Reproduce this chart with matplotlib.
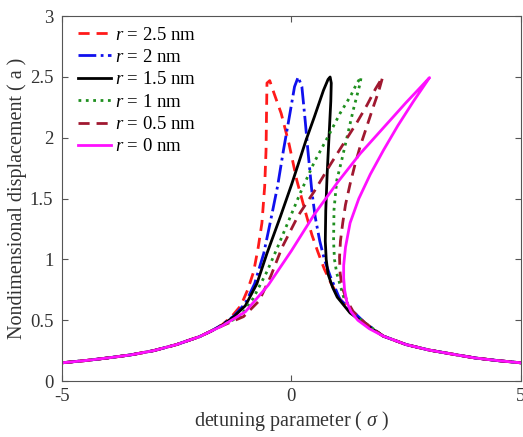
import numpy as np
import matplotlib.pyplot as plt

plt.rcParams['font.family'] = 'Liberation Serif'
plt.rcParams['mathtext.fontset'] = 'custom'
plt.rcParams['mathtext.rm'] = 'Liberation Serif'
plt.rcParams['mathtext.it'] = 'Liberation Serif:italic'
plt.rcParams['axes.unicode_minus'] = False

# shared low-amplitude tails
tail_l_s = [-5.0, -4.5, -4.0, -3.5, -3.0, -2.5, -2.0, -1.75]
tail_l_a = [0.15, 0.168, 0.19, 0.215, 0.25, 0.30, 0.365, 0.41]
tail_r_s = [2.0, 2.5, 3.0, 3.5, 4.0, 4.5, 5.0]
tail_r_a = [0.37, 0.30, 0.255, 0.222, 0.19, 0.168, 0.15]

# r = 2.5 nm
s_r25 = [-1.5, -1.3, -1.1, -0.95, -0.82, -0.72, -0.64, -0.58, -0.55, -0.54, -0.53, -0.47,
         -0.38, -0.22, -0.05, 0.12, 0.3, 0.45, 0.58, 0.72, 0.87, 1.05, 1.3, 1.6]
a_r25 = [0.465, 0.53, 0.62, 0.75, 0.9, 1.1, 1.3, 1.6, 1.9, 2.2, 2.45, 2.47,
         2.37, 2.2, 1.95, 1.65, 1.4, 1.2, 1.06, 0.92, 0.8, 0.68, 0.57, 0.47]
# r = 2 nm
s_r2 = [-1.5, -1.25, -1.0, -0.8, -0.6, -0.45, -0.3, -0.17, -0.03, 0.07, 0.15, 0.23,
        0.3, 0.36, 0.45, 0.52, 0.62, 0.72, 0.85, 1.06, 1.35, 1.6]
a_r2 = [0.465, 0.535, 0.64, 0.8, 1.05, 1.32, 1.6, 1.9, 2.2, 2.42, 2.5, 2.42,
        2.15, 1.9, 1.55, 1.35, 1.15, 1.0, 0.86, 0.67, 0.57, 0.48]
# r = 1.5 nm
s_r15 = [-1.5, -1.25, -1.0, -0.75, -0.53, -0.24, 0.01, 0.2, 0.32, 0.5, 0.7, 0.8, 0.845,
         0.87, 0.86, 0.82, 0.78, 0.75, 0.74, 0.76, 0.8, 0.9, 1.0, 1.28, 1.6]
a_r15 = [0.46, 0.53, 0.62, 0.8, 1.05, 1.35, 1.62, 1.84, 1.98, 2.17, 2.39, 2.48, 2.5,
         2.45, 2.3, 2.0, 1.7, 1.4, 1.15, 1.0, 0.88, 0.77, 0.69, 0.56, 0.47]
# r = 1 nm
s_r1 = [-1.5, -1.12, -0.83, -0.53, -0.3, -0.1, 0.2, 0.5, 0.8, 1.06, 1.3, 1.43, 1.52,
        1.5, 1.35, 1.21, 1.1, 0.99, 0.93, 0.92, 0.94, 0.99, 1.14, 1.39, 1.6]
a_r1 = [0.46, 0.53, 0.68, 0.9, 1.1, 1.28, 1.55, 1.8, 2.01, 2.2, 2.35, 2.45, 2.5,
        2.45, 2.23, 2.0, 1.82, 1.65, 1.41, 1.15, 1.0, 0.885, 0.69, 0.54, 0.48]
# r = 0.5 nm
s_r05 = [-1.5, -1.04, -0.7, -0.45, -0.2, 0.15, 0.5, 0.85, 1.15, 1.42, 1.65, 1.83, 1.99,
         1.9, 1.79, 1.65, 1.5, 1.38, 1.28, 1.18, 1.12, 1.07, 1.05, 1.06, 1.1, 1.2, 1.35, 1.6]
a_r05 = [0.455, 0.53, 0.66, 0.86, 1.1, 1.36, 1.56, 1.78, 1.96, 2.12, 2.27, 2.4, 2.5,
         2.38, 2.26, 2.1, 1.93, 1.77, 1.62, 1.45, 1.3, 1.15, 1.02, 0.9, 0.78, 0.67, 0.57, 0.48]
# r = 0 nm
s_r0 = [-1.5, -1.0, -0.5, 0.0, 0.5, 1.0, 1.5, 2.0, 2.5, 2.8, 3.01,
        2.66, 2.32, 2.01, 1.72, 1.47, 1.28, 1.18, 1.14, 1.14, 1.16, 1.21, 1.3, 1.45, 1.7]
a_r0 = [0.455, 0.57, 0.79, 1.07, 1.37, 1.63, 1.87, 2.08, 2.29, 2.41, 2.495,
        2.3, 2.1, 1.9, 1.7, 1.5, 1.3, 1.1, 0.95, 0.85, 0.75, 0.65, 0.57, 0.5, 0.43]

labels = ['2.5', '2', '1.5', '1', '0.5', '0']
curves = [(s_r25, a_r25), (s_r2, a_r2), (s_r15, a_r15), (s_r1, a_r1), (s_r05, a_r05), (s_r0, a_r0)]
colors = ['#ff1a1a', '#1010ee', 'black', '#1f8f1f', '#a01830', '#ff10ff']
styles = [(0, (4, 2.5)), '-.', '-', ':', (0, (4, 2.5)), '-']

fig = plt.figure(figsize=(5.23, 4.37), dpi=100)
ax = fig.add_axes([0.118, 0.128, 0.878, 0.835])

for (s, a), lab, c, ls in zip(curves, labels, colors, styles):
    x = tail_l_s + s + tail_r_s
    y = tail_l_a + a + tail_r_a
    ax.plot(x, y, color=c, linestyle=ls, linewidth=2, label='$r$ = ' + lab + ' nm')

ax.set_xlim(-5, 5)
ax.set_ylim(0, 3)
ax.set_xticks([-5, 0, 5])
ax.set_yticks([0, 0.5, 1, 1.5, 2, 2.5, 3])
ax.set_yticklabels(['0', '0.5', '1', '1.5', '2', '2.5', '3'])
ax.tick_params(direction='in', top=True, right=True, labelsize=13.5, length=4, colors='#555555',
               labelcolor='#333333')
ax.tick_params(axis='y', pad=6)
ax.tick_params(axis='x', pad=5)
for sp in ax.spines.values():
    sp.set_color('#555555')
ax.set_xlabel('detuning parameter ( $\\sigma$ )', fontsize=14.5, color='#333333', labelpad=3)
ax.set_ylabel('Nondimensional displacement ( a )', fontsize=14.5, color='#333333', labelpad=2)

ax.legend(loc='upper left', bbox_to_anchor=(0.013, 1.0), frameon=False, fontsize=13.5,
          handlelength=1.75, handletextpad=0.2, labelspacing=0.28, borderaxespad=0.2,
          borderpad=0.35)

fig.savefig('out.png', dpi=100)
